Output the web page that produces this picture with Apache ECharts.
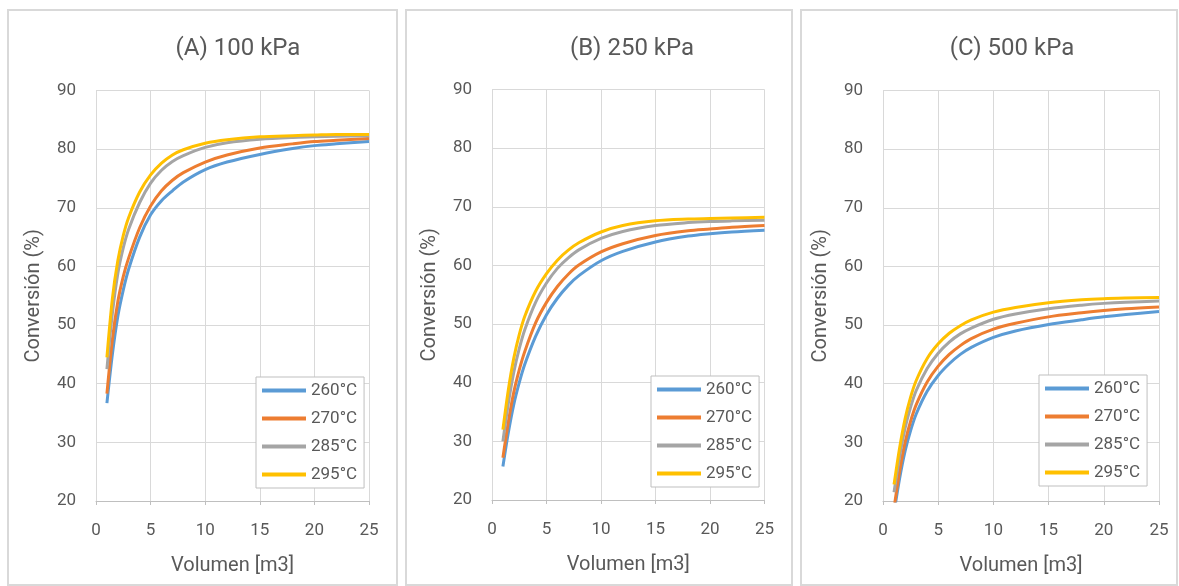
<!DOCTYPE html>
<html>
<head>
<meta charset="utf-8">
<script src="https://cdn.jsdelivr.net/npm/echarts@6/dist/echarts.min.js"></script>
<style>
html,body{margin:0;padding:0;background:#fff;}
#chart{width:1179px;height:586px;}
</style>
</head>
<body>
<div id="chart"></div>
<script>
// ---- data ----
var volumen = [1, 1.5, 2, 2.5, 3, 4, 5, 6, 7, 8, 10, 12, 15, 18, 20, 22, 25];
var seriesNames = ['260°C', '270°C', '285°C', '295°C'];
var panelTitles = ['(A) 100 kPa', '(B) 250 kPa', '(C) 500 kPa'];
var xTicks = [0, 5, 10, 15, 20, 25];
var yTicks = [20, 30, 40, 50, 60, 70, 80, 90];

// (A) 100 kPa
var A_260 = [36.7, 45.0, 51.5, 56.0, 59.6, 65.0, 68.8, 71.2, 72.9, 74.4, 76.5, 77.8, 79.1, 80.1, 80.6, 80.9, 81.3];
var A_270 = [38.3, 47.5, 54.0, 58.3, 61.5, 66.6, 70.3, 72.9, 74.7, 76.0, 77.8, 79.0, 80.2, 80.9, 81.3, 81.5, 81.8];
var A_285 = [42.5, 52.0, 58.8, 63.2, 66.4, 70.9, 74.2, 76.4, 77.9, 78.9, 80.3, 81.1, 81.7, 82.0, 82.1, 82.2, 82.3];
var A_295 = [44.5, 54.5, 61.0, 65.3, 68.4, 72.7, 75.6, 77.6, 79.0, 79.9, 81.0, 81.6, 82.1, 82.3, 82.4, 82.5, 82.5];
// (B) 250 kPa
var B_260 = [25.7, 31.5, 36.3, 40.0, 43.1, 47.9, 51.6, 54.4, 56.6, 58.3, 60.8, 62.4, 64.0, 65.0, 65.4, 65.7, 66.0];
var B_270 = [27.2, 33.3, 38.4, 42.2, 45.3, 50.2, 53.7, 56.4, 58.5, 60.1, 62.3, 63.7, 65.1, 65.9, 66.2, 66.5, 66.8];
var B_285 = [30.0, 36.5, 41.8, 45.8, 49.0, 53.7, 57.0, 59.5, 61.3, 62.7, 64.6, 65.8, 66.8, 67.3, 67.5, 67.6, 67.7];
var B_295 = [32.0, 38.8, 44.2, 48.2, 51.3, 55.6, 58.6, 60.9, 62.6, 63.9, 65.7, 66.8, 67.6, 67.9, 68.0, 68.1, 68.2];
// (C) 500 kPa
var C_260 = [18.0, 23.8, 28.5, 32.0, 34.8, 38.7, 41.4, 43.4, 45.0, 46.2, 47.9, 49.0, 50.1, 50.9, 51.4, 51.8, 52.3];
var C_270 = [18.8, 25.0, 30.0, 33.6, 36.4, 40.3, 43.0, 45.0, 46.5, 47.7, 49.3, 50.3, 51.4, 52.1, 52.5, 52.8, 53.1];
var C_285 = [21.5, 27.5, 32.4, 36.0, 38.8, 42.6, 45.2, 47.1, 48.5, 49.5, 51.0, 51.9, 52.8, 53.4, 53.7, 53.9, 54.1];
var C_295 = [22.8, 29.0, 34.0, 37.7, 40.5, 44.3, 46.8, 48.6, 49.9, 50.9, 52.2, 53.0, 53.8, 54.3, 54.5, 54.6, 54.7];

var panels = [[A_260, A_270, A_285, A_295], [B_260, B_270, B_285, B_295], [C_260, C_270, C_285, C_295]];
var colors = ['#5B9BD5', '#ED7D31', '#A5A5A5', '#FFC000'];

// ---- layout ----
var FONT = 'Roboto, "Noto Sans", sans-serif';
var TXT = '#595959';
var grids = [
  {left: 96, top: 90.5, width: 273, height: 410.5},
  {left: 492, top: 89.5, width: 272.5, height: 410.5},
  {left: 883, top: 90.5, width: 276, height: 410.5}
];
var titleCenters = [238, 632, 1012];
var legendPos = [[256, 377], [651, 376], [1039, 375]];
var frames = [[8, 10, 389, 575], [406, 10, 386, 575], [801, 10, 376, 575]];

function pairs(xs, ys) { return xs.map(function (x, i) { return [x, ys[i]]; }); }

var option = {
  backgroundColor: '#fff',
  animation: false,
  textStyle: {fontFamily: FONT},
  title: panelTitles.map(function (t, i) {
    return {text: t, left: titleCenters[i] - 5, top: 32, textAlign: 'center',
      textStyle: {fontFamily: FONT, fontSize: 24, fontWeight: 'normal', color: TXT}};
  }),
  graphic: frames.map(function (f) {
    return {type: 'rect', shape: {x: f[0], y: f[1], width: f[2], height: f[3]}, z: -10,
      style: {fill: 'none', stroke: '#d9d9d9', lineWidth: 2}, silent: true};
  }),
  legend: legendPos.map(function (p) {
    return {data: seriesNames, orient: 'vertical', left: p[0], top: p[1],
      icon: 'rect', itemWidth: 44, itemHeight: 4, itemGap: 11,
      padding: [5, 7, 5, 6], borderColor: '#bfbfbf', borderWidth: 1, backgroundColor: '#fff',
      selectedMode: false,
      textStyle: {fontFamily: FONT, fontSize: 17, color: TXT}};
  }),
  grid: grids,
  xAxis: grids.map(function (g, i) {
    return {type: 'value', gridIndex: i, min: xTicks[0], max: xTicks[xTicks.length - 1], interval: 5,
      name: 'Volumen [m3]', nameLocation: 'middle', nameGap: 55,
      nameTextStyle: {fontFamily: FONT, fontSize: 20, color: TXT},
      axisLine: {show: true, lineStyle: {color: '#bfbfbf', width: 1}},
      axisTick: {show: true, length: 4, lineStyle: {color: '#bfbfbf'}},
      axisLabel: {margin: 21, fontFamily: FONT, fontSize: 17, color: TXT},
      splitLine: {show: true, lineStyle: {color: '#d9d9d9', width: 1}}};
  }),
  yAxis: grids.map(function (g, i) {
    return {type: 'value', gridIndex: i, min: yTicks[0], max: yTicks[yTicks.length - 1], interval: 10,
      name: 'Conversión (%)', nameLocation: 'middle', nameGap: 52, nameRotate: 90,
      nameTextStyle: {fontFamily: FONT, fontSize: 20, color: TXT},
      axisLine: {show: false}, axisTick: {show: false},
      axisLabel: {margin: 20, fontFamily: FONT, fontSize: 17, color: TXT},
      splitLine: {show: true, lineStyle: {color: '#d9d9d9', width: 1}}};
  }),
  series: []
};

panels.forEach(function (pd, gi) {
  pd.forEach(function (ys, si) {
    option.series.push({
      type: 'line', name: seriesNames[si], xAxisIndex: gi, yAxisIndex: gi,
      data: pairs(volumen, ys), smooth: 0.3,
      showSymbol: false, symbol: 'none', clip: true,
      color: colors[si], lineStyle: {width: 3, color: colors[si]}
    });
  });
});

var chart = echarts.init(document.getElementById('chart'), null, {renderer: 'canvas'});
chart.setOption(option);
</script>
</body>
</html>
